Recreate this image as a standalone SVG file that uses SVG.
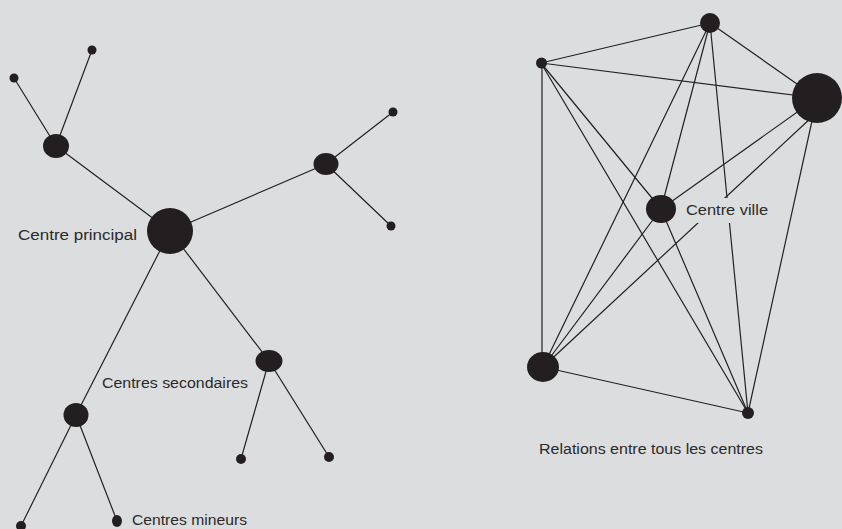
<svg xmlns="http://www.w3.org/2000/svg" width="842" height="529" viewBox="0 0 842 529">
<defs>
<style>
.bg{fill:#dcdddf}
.e{stroke:#222;stroke-width:1.2;fill:none;stroke-linecap:round}
.n{fill:#231f20}
.t{font-family:"Liberation Sans","DejaVu Sans",sans-serif;font-size:14px;fill:#2a2a2a}
</style>
</defs>
<rect class="bg" x="0" y="0" width="842" height="529"/>
<g id="connectors">
<line class="e" x1="170" y1="231" x2="56" y2="146"/>
<line class="e" x1="56" y1="146" x2="14" y2="78"/>
<line class="e" x1="56" y1="146" x2="92" y2="50"/>
<line class="e" x1="170" y1="231" x2="326" y2="164"/>
<line class="e" x1="326" y1="164" x2="393" y2="112"/>
<line class="e" x1="326" y1="164" x2="391" y2="226"/>
<line class="e" x1="170" y1="231" x2="76" y2="415"/>
<line class="e" x1="76" y1="415" x2="21" y2="526"/>
<line class="e" x1="76" y1="415" x2="117" y2="521"/>
<line class="e" x1="170" y1="231" x2="269" y2="361"/>
<line class="e" x1="269" y1="361" x2="241" y2="459"/>
<line class="e" x1="269" y1="361" x2="329" y2="457"/>
<line class="e" x1="541" y1="63" x2="710" y2="23"/>
<line class="e" x1="541" y1="63" x2="817" y2="98"/>
<line class="e" x1="542" y1="63" x2="542" y2="367"/>
<line class="e" x1="541" y1="63" x2="661" y2="209"/>
<line class="e" x1="541" y1="63" x2="748" y2="413"/>
<line class="e" x1="710" y1="23" x2="817" y2="98"/>
<line class="e" x1="710" y1="23" x2="661" y2="209"/>
<line class="e" x1="710" y1="23" x2="543" y2="367"/>
<line class="e" x1="710" y1="23" x2="748" y2="413"/>
<line class="e" x1="817" y1="98" x2="661" y2="209"/>
<line class="e" x1="812" y1="117" x2="543" y2="367"/>
<line class="e" x1="817" y1="98" x2="748" y2="413"/>
<line class="e" x1="661" y1="209" x2="543" y2="367"/>
<line class="e" x1="661" y1="209" x2="748" y2="413"/>
<line class="e" x1="543" y1="367" x2="748" y2="413"/>
</g>
<rect class="bg" x="684" y="198" width="90" height="25"/>
<g id="centre-principal"><circle class="n" cx="170" cy="231" r="23"/><text class="t" x="18" y="240" textLength="119" lengthAdjust="spacingAndGlyphs">Centre principal</text></g>
<g id="sec-tl"><ellipse class="n" cx="56" cy="146" rx="13" ry="12"/></g>
<g id="sec-r"><ellipse class="n" cx="326" cy="164" rx="12.5" ry="11"/></g>
<g id="sec-ll"><ellipse class="n" cx="76" cy="415" rx="12.5" ry="12"/></g>
<g id="sec-lr"><ellipse class="n" cx="269" cy="361" rx="13.5" ry="11"/><text class="t" x="102" y="388" textLength="146" lengthAdjust="spacingAndGlyphs">Centres secondaires</text></g>
<g id="min1"><circle class="n" cx="14" cy="78" r="4.5"/></g>
<g id="min2"><circle class="n" cx="92" cy="50" r="4.5"/></g>
<g id="min3"><circle class="n" cx="393" cy="112" r="4.5"/></g>
<g id="min4"><circle class="n" cx="391" cy="226" r="4.5"/></g>
<g id="min5"><circle class="n" cx="241" cy="459" r="5"/></g>
<g id="min6"><circle class="n" cx="329" cy="457" r="5"/></g>
<g id="min7"><circle class="n" cx="21" cy="526" r="5"/></g>
<g id="min8"><ellipse class="n" cx="117" cy="521" rx="5" ry="6"/><text class="t" x="132" y="525" textLength="115" lengthAdjust="spacingAndGlyphs">Centres mineurs</text></g>
<g id="r-a"><circle class="n" cx="541.5" cy="63" r="5.5"/></g>
<g id="r-b"><circle class="n" cx="710" cy="23" r="10"/></g>
<g id="r-c"><circle class="n" cx="817" cy="98" r="25"/></g>
<g id="r-d"><ellipse class="n" cx="661" cy="209" rx="15" ry="14"/><text class="t" x="686" y="215" textLength="82" lengthAdjust="spacingAndGlyphs">Centre ville</text></g>
<g id="r-e"><ellipse class="n" cx="543" cy="367" rx="16" ry="15"/></g>
<g id="r-f"><circle class="n" cx="748" cy="413" r="6"/></g>
<text class="t" x="539" y="454" textLength="224" lengthAdjust="spacingAndGlyphs">Relations entre tous les centres</text>
</svg>
